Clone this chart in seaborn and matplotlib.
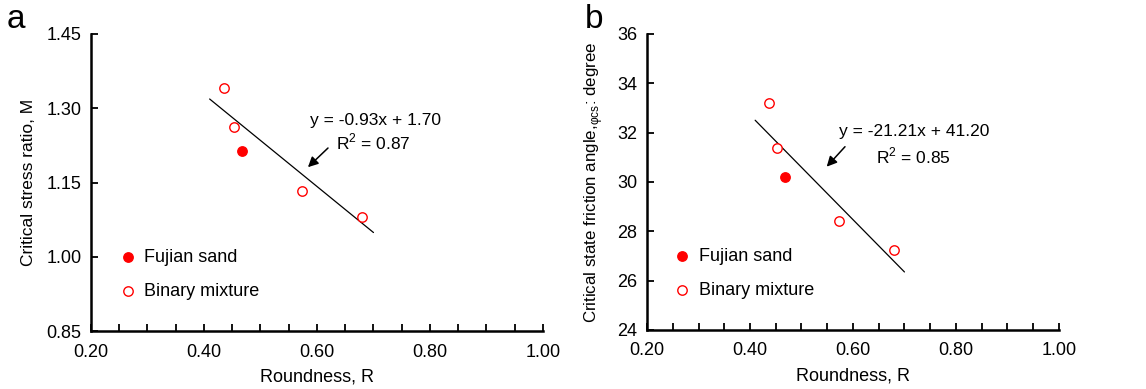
import matplotlib
matplotlib.use("Agg")
import matplotlib.pyplot as plt
from matplotlib.ticker import MultipleLocator, FixedLocator, FormatStrFormatter
import seaborn as sns
import pandas as pd

sns.set_theme(style="ticks")
plt.rcParams["font.family"] = ["Liberation Sans", "DejaVu Sans"]
plt.rcParams["mathtext.fontset"] = "custom"
plt.rcParams["mathtext.rm"] = "Liberation Sans"

# Roundness and critical-state measurements
fujian_R = [0.468]
fujian_M = [1.214]
fujian_phi = [30.22]

mixture_R = [0.436, 0.453, 0.573, 0.680]
mixture_M = [1.341, 1.263, 1.132, 1.080]
mixture_phi = [33.19, 31.39, 28.42, 27.24]

# Linear fits: (slope, intercept, R^2) and the R range they cover
fit_M = (-0.93, 1.70, 0.87)
fit_phi = (-21.21, 41.20, 0.85)
fit_R_range = [0.41, 0.70]

# Tick values
x_ticks = [0.20, 0.40, 0.60, 0.80, 1.00]
M_ticks = [0.85, 1.00, 1.15, 1.30, 1.45]
phi_ticks = [24, 26, 28, 30, 32, 34, 36]

RED = "#ff0000"
FS = 13
FS_NOTE = 12.5

fig = plt.figure(figsize=(11.46, 3.89), dpi=100)
ax_a = fig.add_axes([0.0794, 0.149, 0.3944, 0.7636])
ax_b = fig.add_axes([0.5646, 0.1517, 0.3594, 0.7609])


def draw_panel(ax, y_fujian, y_mixture, fit, yticks, yfmt, ylabel, ylabel_fs,
               ylabelpad, arrow_tail, arrow_tip, eq_pos, r2_pos, letter,
               letter_x):
    fuj = pd.DataFrame({"R": fujian_R, "v": y_fujian})
    mix = pd.DataFrame({"R": mixture_R, "v": y_mixture})
    slope, intercept, r2 = fit
    line = pd.DataFrame({"R": fit_R_range,
                         "v": [slope * r + intercept for r in fit_R_range]})

    sns.lineplot(data=line, x="R", y="v", ax=ax, color="black", lw=0.9)
    sns.scatterplot(data=fuj, x="R", y="v", ax=ax, s=46, color=RED,
                    edgecolor=RED, linewidth=1, label="Fujian sand", zorder=3)
    sns.scatterplot(data=mix, x="R", y="v", ax=ax, s=46, facecolor="white",
                    edgecolor=RED, linewidth=1, label="Binary mixture", zorder=3)

    ax.set_xlim(x_ticks[0], x_ticks[-1])
    ax.set_ylim(yticks[0], yticks[-1])
    ax.xaxis.set_major_locator(FixedLocator(x_ticks))
    ax.xaxis.set_minor_locator(MultipleLocator(0.05))
    ax.xaxis.set_major_formatter(FormatStrFormatter("%.2f"))
    ax.yaxis.set_major_locator(FixedLocator(yticks))
    ax.yaxis.set_major_formatter(FormatStrFormatter(yfmt))
    ax.tick_params(axis="both", which="both", direction="in", length=5,
                   width=1.3, color="black", labelsize=FS, labelcolor="black")
    ax.tick_params(axis="x", which="both", pad=9)
    ax.tick_params(axis="y", pad=7)
    ax.tick_params(axis="y", which="minor", left=False)
    for side in ("top", "right"):
        ax.spines[side].set_visible(False)
    for side in ("left", "bottom"):
        ax.spines[side].set_linewidth(1.8)
        ax.spines[side].set_color("black")

    ax.set_xlabel("Roundness, R", fontsize=FS, color="black", labelpad=6)
    ax.set_ylabel(ylabel, fontsize=ylabel_fs, color="black",
                  labelpad=ylabelpad)

    ax.annotate("", xy=arrow_tip, xytext=arrow_tail,
                arrowprops=dict(arrowstyle="-|>", color="black", lw=1.1,
                                mutation_scale=15, shrinkA=0, shrinkB=0))
    ax.text(*eq_pos, f"y = {slope:.2f}x + {intercept:.2f}", fontsize=FS_NOTE,
            ha="center", va="center", color="black")
    ax.text(*r2_pos, f"R$^2$ = {r2:.2f}", fontsize=FS_NOTE,
            ha="center", va="center", color="black")

    leg = ax.legend(loc="lower left", bbox_to_anchor=(0.033, 0.062),
                    frameon=False, fontsize=FS, handletextpad=0.4,
                    labelspacing=0.95, handlelength=1.0, borderpad=0.2)
    for t in leg.get_texts():
        t.set_color("black")

    fig.text(letter_x, 0.95, letter, fontsize=24, ha="left", va="center",
             color="black")


draw_panel(ax_a, fujian_M, mixture_M, fit_M, M_ticks, "%.2f",
           "Critical stress ratio, M", 12.5, 7,
           arrow_tail=(0.6195, 1.2197), arrow_tip=(0.584, 1.181),
           eq_pos=(0.703, 1.276), r2_pos=(0.699, 1.232),
           letter="a", letter_x=0.006)

draw_panel(ax_b, fujian_phi, mixture_phi, fit_phi, phi_ticks, "%d",
           "Critical state friction angle,$_{\\mathregular{φcs}}$: degree",
           12.2, 9,
           arrow_tail=(0.5845, 31.43), arrow_tip=(0.549, 30.62),
           eq_pos=(0.718, 32.04), r2_pos=(0.718, 31.03),
           letter="b", letter_x=0.510)

fig.savefig("out.png", dpi=100)
